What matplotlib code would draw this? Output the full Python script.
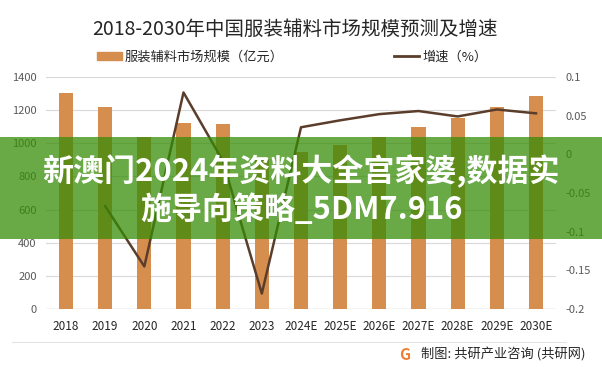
import matplotlib
matplotlib.use("Agg")
import matplotlib.pyplot as plt
from matplotlib.patches import Patch, Rectangle
from matplotlib.lines import Line2D

plt.rcParams["font.family"] = ["Noto Sans CJK SC", "DejaVu Sans"]

# chart data
years = ["2018", "2019", "2020", "2021", "2022", "2023", "2024E",
         "2025E", "2026E", "2027E", "2028E", "2029E", "2030E"]
market_size = [1303, 1216, 1040, 1125, 1115, 915, 947, 988, 1040, 1100, 1155, 1222, 1288]
growth_years = years[1:]
growth = [-0.067, -0.145, 0.080, -0.008, -0.180, 0.035, 0.044, 0.052,
          0.056, 0.049, 0.058, 0.053]
left_ticks = [0, 200, 400, 600, 800, 1000, 1200, 1400]
right_ticks = [-0.2, -0.15, -0.1, -0.05, 0, 0.05, 0.1]
right_tick_labels = ["-0.2", "-0.15", "-0.1", "-0.05", "0", "0.05", "0.1"]

bar_color = "#d68e4f"
line_color = "#5a3d2b"
tick_color = "#595959"

fig = plt.figure(figsize=(6.02, 3.76), dpi=100)
ax = fig.add_axes([0.0771, 0.1782, 0.8458, 0.617])

x = list(range(len(years)))
ax.bar(x, market_size, width=0.36, color=bar_color, zorder=2)
ax.set_xlim(-0.5, len(years) - 0.5)
ax.set_ylim(0, 1400)
ax.set_yticks(left_ticks)
ax.set_xticks(x, years)
ax.grid(axis="y", color="#d9d9d9", lw=0.8, zorder=0)
ax.axhline(0, color="#bfbfbf", lw=0.9, zorder=1)
for s in ax.spines.values():
    s.set_visible(False)
ax.tick_params(axis="y", length=0, labelsize=8, colors=tick_color, pad=7)
ax.tick_params(axis="x", length=0, labelsize=8.5, colors="#262626", pad=8)

ax2 = ax.twinx()
gx = [years.index(y) for y in growth_years]
ax2.plot(gx, growth, color=line_color, lw=1.8, zorder=3)
ax2.set_ylim(-0.2, 0.1)
ax2.set_yticks(right_ticks, right_tick_labels)
for s in ax2.spines.values():
    s.set_visible(False)
ax2.tick_params(axis="y", length=0, labelsize=8, colors=tick_color, pad=7)

fig.text(0.49, 0.922, "2018-2030年中国服装辅料市场规模预测及增速",
         ha="center", va="center", fontsize=14, color="#262626")

handles = [Patch(color=bar_color), Line2D([], [], color=line_color, lw=2)]
fig.legend(handles, ["服装辅料市场规模（亿元）", "增速（%）"], ncol=2,
           loc="center", bbox_to_anchor=(0.485, 0.848), frameon=False,
           fontsize=9.5, handlelength=1.9, handleheight=0.6,
           handletextpad=0.2, columnspacing=8.4, labelcolor="#262626")

# overlay banner
fig.add_artist(Rectangle((0, 0.364), 1, 0.271, transform=fig.transFigure,
                         color="#368c05", alpha=0.74, lw=0, zorder=10))
fig.text(0.5, 0.543, "新澳门2024年资料大全宫家婆,数据实", ha="center", va="center",
         fontsize=22.3, fontweight="bold", color="white", zorder=11)
fig.text(0.5, 0.441, "施导向策略_5DM7.916", ha="center", va="center",
         fontsize=22.3, fontweight="bold", color="white", zorder=11)

# footer
fig.add_artist(Line2D([0.02, 0.94], [0.0904, 0.0904], transform=fig.transFigure,
                      color="#e3e3e3", lw=0.8))
fig.text(0.672, 0.056, "G", ha="center", va="center", fontsize=11,
         fontweight="bold", color="#ee7d31")
fig.text(0.972, 0.056, "制图: 共研产业咨询 (共研网)", ha="right", va="center",
         fontsize=9.5, color="#262626")

fig.savefig("out.png", dpi=100)
